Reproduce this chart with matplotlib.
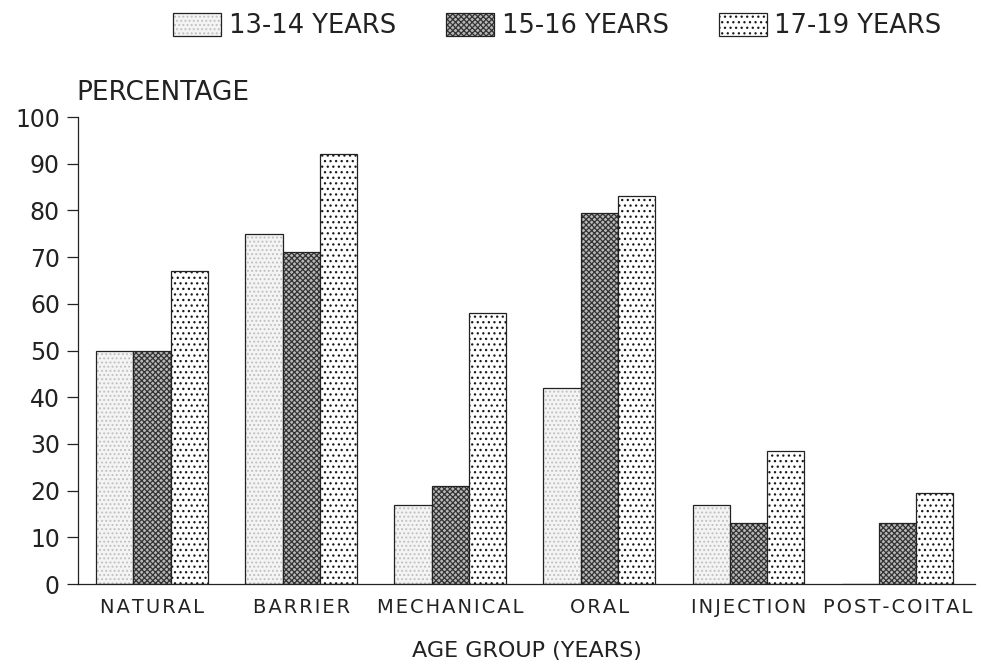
import matplotlib
matplotlib.use("Agg")
import matplotlib.pyplot as plt
import numpy as np

plt.rcParams['font.family'] = ['DejaVu Sans']
plt.rcParams['hatch.linewidth'] = 0.9

methods = ['NATURAL', 'BARRIER', 'MECHANICAL', 'ORAL', 'INJECTION', 'POST-COITAL']
series = ['13-14 YEARS', '15-16 YEARS', '17-19 YEARS']
age_13_14 = [50, 75, 17, 42, 17, 0]
age_15_16 = [50, 71, 21, 79.5, 13, 13]
age_17_19 = [67, 92, 58, 83, 28.5, 19.5]

fig = plt.figure(figsize=(9.81, 6.66), dpi=100)
ax = fig.add_axes([0.0795, 0.123, 0.9145, 0.7013])

x = np.arange(len(methods))
w = 0.25
styles = [
    dict(facecolor='#f4f4f4', hatch='....', hatch_color='#c0c0c0'),
    dict(facecolor='#b8b8b8', hatch='xxxxxx', hatch_color='#333333'),
    dict(facecolor='white', hatch='...', hatch_color='#1a1a1a'),
]
handles = []
for i, (vals, st) in enumerate(zip([age_13_14, age_15_16, age_17_19], styles)):
    bars = ax.bar(x + (i - 1) * w, vals, w, facecolor=st['facecolor'],
                  edgecolor='#222222', linewidth=0.9, hatch=st['hatch'],
                  label=series[i])
    for b in bars:
        b._hatch_color = matplotlib.colors.to_rgba(st['hatch_color'])
    handles.append(bars)

ax.set_xlim(-0.497, 5.52)
ax.set_ylim(0, 100)
ax.set_yticks(range(0, 101, 10))
ax.tick_params(axis='y', labelsize=17, length=8, width=0.9, direction='out',
               pad=5, colors='#222222')
ax.tick_params(axis='x', length=0, labelsize=14, pad=10, colors='#222222')
ax.set_xticks(x)
# widely spaced capitals, as in the original
ax.set_xticklabels(['\u200a'.join(m) for m in methods])
for s in ['top', 'right']:
    ax.spines[s].set_visible(False)
for s in ['left', 'bottom']:
    ax.spines[s].set_linewidth(0.9)
    ax.spines[s].set_color('#222222')

ax.set_xlabel('AGE GROUP (YEARS)', fontsize=16, labelpad=17, color='#222222')
fig.text(0.078, 0.85, 'PERCENTAGE', fontsize=19, ha='left', va='baseline',
         color='#222222')

leg = fig.legend(handles=handles, labels=series, loc='upper left',
                 bbox_to_anchor=(173 / 981, 1 - 13 / 666), ncol=3, frameon=False,
                 fontsize=18.5, handlelength=1.87, handleheight=1.0,
                 columnspacing=1.95, handletextpad=0.3, borderpad=0,
                 borderaxespad=0)
for t in leg.get_texts():
    t.set_color('#222222')

fig.savefig('out.png', dpi=100)
